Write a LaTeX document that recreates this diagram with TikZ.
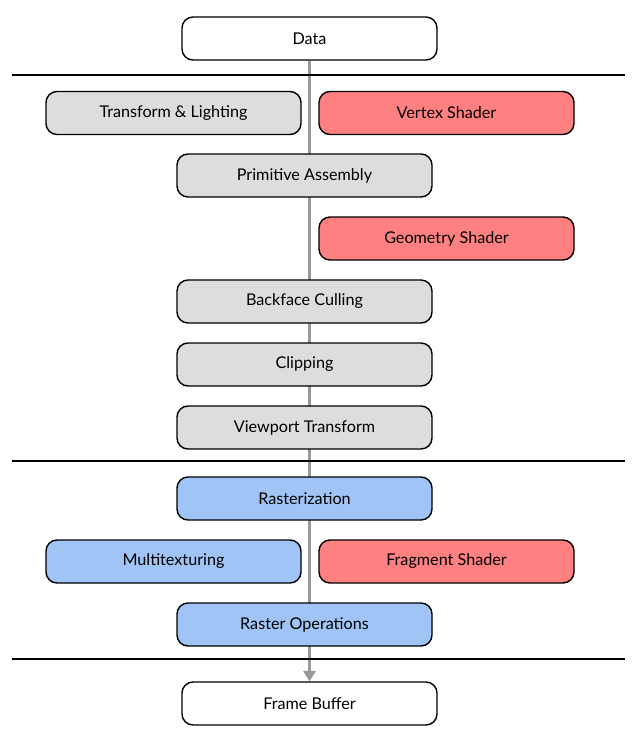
\documentclass[tikz,border=0pt]{standalone}
\usepackage{fontspec}
\setmainfont{Lato}
\usepackage{tikz}
\usetikzlibrary{arrows.meta,backgrounds}

\definecolor{stagegray}{HTML}{DDDDDD}
\definecolor{shaderred}{HTML}{FF8080}
\definecolor{rasterblue}{HTML}{A0C4F5}
\definecolor{flowgray}{HTML}{999999}

\tikzset{
	stage/.style={draw,line width=0.8pt,rounded corners=0.22cm,minimum width=5.1cm,minimum height=0.86cm,inner sep=0pt,font=\fontsize{9.2}{11}\selectfont},
	endpoint/.style={stage,fill=white},
	fixed/.style={stage,fill=stagegray},
	shader/.style={stage,fill=shaderred},
	raster/.style={stage,fill=rasterblue},
	divider/.style={line width=0.8pt}
}

\begin{document}
\begin{tikzpicture}
	\useasboundingbox (0, 0) rectangle (12.76, -14.84);
	% Positions taken from the pixel layout (50 px per cm).
	\node(data) [endpoint] at (6.19, -0.77) {Data};
	\node(transform) [fixed] at (3.47, -2.26) {Transform \& Lighting};
	\node(vertex) [shader] at (8.93, -2.26) {Vertex Shader};
	\node(assembly) [fixed] at (6.09, -3.51) {Primitive Assembly};
	\node(geometry) [shader] at (8.93, -4.77) {Geometry Shader};
	\node(culling) [fixed] at (6.09, -6.03) {Backface Culling};
	\node(clipping) [fixed] at (6.09, -7.29) {Clipping};
	\node(viewport) [fixed] at (6.09, -8.55) {Viewport Transform};
	\node(rasterization) [raster] at (6.09, -9.97) {Rasterization};
	\node(multitex) [raster] at (3.47, -11.23) {Multitexturing};
	\node(fragment) [shader] at (8.93, -11.23) {Fragment Shader};
	\node(rasterops) [raster] at (6.09, -12.49) {Raster Operations};
	\node(framebuffer) [endpoint] at (6.19, -14.07) {Frame Buffer};
	\draw[divider] (0.24, -1.5) -- (12.5, -1.5);
	\draw[divider] (0.24, -9.22) -- (12.5, -9.22);
	\draw[divider] (0.24, -13.18) -- (12.5, -13.18);
	\begin{scope}[on background layer]
		\draw[flowgray,line width=1.7pt,-{Triangle[width=7pt,length=6pt]}] (data) -- (framebuffer);
	\end{scope}
\end{tikzpicture}
\end{document}
